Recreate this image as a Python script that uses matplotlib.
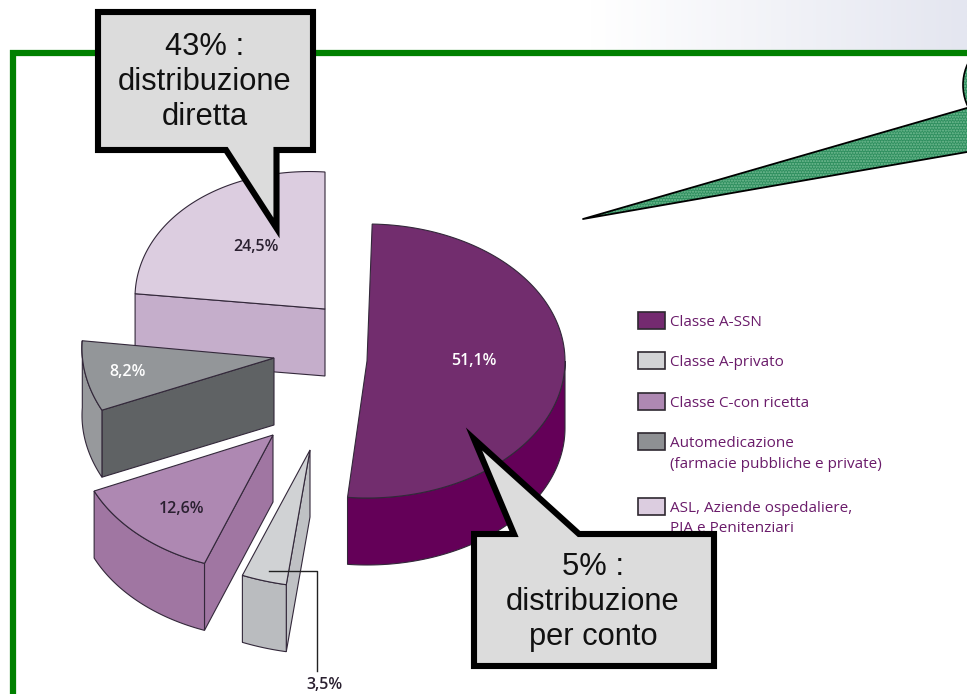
import numpy as np
import matplotlib
matplotlib.use("Agg")
import matplotlib.pyplot as plt
from matplotlib.patches import Polygon, Ellipse, Rectangle
from matplotlib.colors import LinearSegmentedColormap

# data
names = ["Classe A-SSN", "Classe A-privato", "Classe C-con ricetta",
         "Automedicazione\n(farmacie pubbliche e private)",
         "ASL, Aziende ospedaliere,\nPIA e Penitenziari"]
values = [51.1, 3.5, 12.6, 8.2, 24.5]
callout_direct = "43% :\ndistribuzione\ndiretta"
callout_account = "5% :\ndistribuzione\nper conto"

# exploded slice placement (pixels)
apex_x = [367, 310, 273, 274, 325]
apex_y = [361, 450, 435, 358, 309]
radius_x = [198, 205, 196, 192, 190]
radius_y = [137, 137, 137, 137, 137]
shear = [0.0, 0.059, 0.0, 0.05, 0.059]
turn = [1.5, 2.5, 3.7, 1.5, 0.0]
depth = 67

top_colors = ["#722d6e", "#d0d2d4", "#ae88b2", "#939699", "#dccde0"]
wall_colors = ["#640058", "#babcbf", "#a076a2", "#97999c", None]
face_colors = [None, "#bfc1c4", "#a076a2", "#5f6264", "#c5aecb"]
swatch_colors = ["#742a70", "#d2d3d5", "#ae88b2", "#8e9093", "#dccde0"]
label_colors = ["white", "#2a2030", "#2a2030", "white", "#2a2030"]
label_x = [474, 324, 182, 128, 256]
label_y = [361, 685, 509, 372, 247]
legend_y = [321, 361, 402, 442, 507]
draw_order = [4, 0, 3, 2, 1]

EDGE = "#33283a"
NARROW = "Open Sans"
GREEN = "#008000"

fig = plt.figure(figsize=(9.67, 6.94), dpi=100)
ax = fig.add_axes([0, 0, 1, 1])

# header shading
fade = LinearSegmentedColormap.from_list("fade", ["#ffffff", "#e4e6f0"])
ax.imshow(np.linspace(0, 1, 256).reshape(1, -1), cmap=fade, aspect="auto",
          extent=(590, 967, 50, 0), zorder=0)

# green frame
ax.plot([13, 13, 967], [694, 53, 53], color=GREEN, lw=4.5,
        solid_joinstyle="miter", zorder=1)


def rim(i, angles):
    t = np.radians(angles)
    x = radius_x[i] * np.sin(t)
    y = -radius_y[i] * np.cos(t) + shear[i] * x
    return apex_x[i] + x, apex_y[i] + y


total = sum(values)
starts = np.cumsum([0] + values[:-1]) / total * 360
sweeps = np.array(values) / total * 360

for i in draw_order:
    a0 = starts[i] + turn[i]
    a1 = a0 + sweeps[i]
    xs, ys = rim(i, np.linspace(a0, a1, 120))
    z = 3 + draw_order.index(i)
    if face_colors[i]:
        fx, fy = xs[0], ys[0]
        ax.add_patch(Polygon([(apex_x[i], apex_y[i]), (fx, fy), (fx, fy + depth),
                              (apex_x[i], apex_y[i] + depth)],
                             fc=face_colors[i], ec=EDGE, lw=0.8, zorder=z))
    if wall_colors[i]:
        wx, wy = rim(i, np.linspace(max(a0, 90), a1, 100))
        pts = list(zip(wx, wy)) + list(zip(wx[::-1], wy[::-1] + depth))
        ax.add_patch(Polygon(pts, fc=wall_colors[i], ec=EDGE, lw=0.8, zorder=z))
    pts = [(apex_x[i], apex_y[i])] + list(zip(xs, ys))
    ax.add_patch(Polygon(pts, fc=top_colors[i], ec=EDGE, lw=0.8, zorder=z))

# percent labels
for i in range(len(values)):
    ax.text(label_x[i], label_y[i], f"{values[i]:.1f}".replace(".", ",") + "%",
            color=label_colors[i], family=NARROW, fontsize=11.5, weight="semibold",
            ha="center", va="center", zorder=10)
ax.plot([269, 317, 317], [571, 571, 671], color="#222222", lw=1, zorder=10)

# legend
for i in range(len(names)):
    ax.add_patch(Rectangle((638, legend_y[i] - 9), 27, 17, fc=swatch_colors[i],
                           ec="#2e2830", lw=1.2, zorder=10))
    ax.text(670, legend_y[i] - 6, names[i], color="#6a1b6a", family=NARROW, fontsize=11,
            ha="left", va="top", linespacing=1.5, zorder=10)

# green speech bubble, runs off the page
for patch in [Ellipse((1003, 85), 80, 90),
              Polygon([(583, 219), (967, 108), (967, 152)])]:
    patch.set(fc="#2f8f5f", ec="#76bd95", hatch="......", lw=0, zorder=11)
    ax.add_patch(patch)
ax.add_patch(Ellipse((1003, 85), 80, 90, fc="none", ec="black", lw=1.2, zorder=12))
ax.plot([967, 583, 967], [108, 219, 152], color="black", lw=1.3, zorder=12)

# grey callouts
box_direct = [(98, 12), (313, 12), (313, 150), (276.5, 150), (276.5, 228), (226, 150), (98, 150)]
box_account = [(474, 534), (514, 534), (474, 439), (579, 534), (714, 534), (714, 666), (474, 666)]
for box in [box_direct, box_account]:
    ax.add_patch(Polygon(box, fc="#dcdcdc", ec="black", lw=4.4, joinstyle="miter", zorder=13))
ax.text(205, 82, callout_direct, family="Liberation Sans", fontsize=22.2, color="#111111",
        ha="center", va="center", linespacing=1.23, zorder=14)
ax.text(593, 602, callout_account, family="Liberation Sans", fontsize=22.2, color="#111111",
        ha="center", va="center", linespacing=1.23, zorder=14)

ax.set_xlim(0, 967)
ax.set_ylim(694, 0)
ax.axis("off")
fig.savefig("out.png", dpi=100)
